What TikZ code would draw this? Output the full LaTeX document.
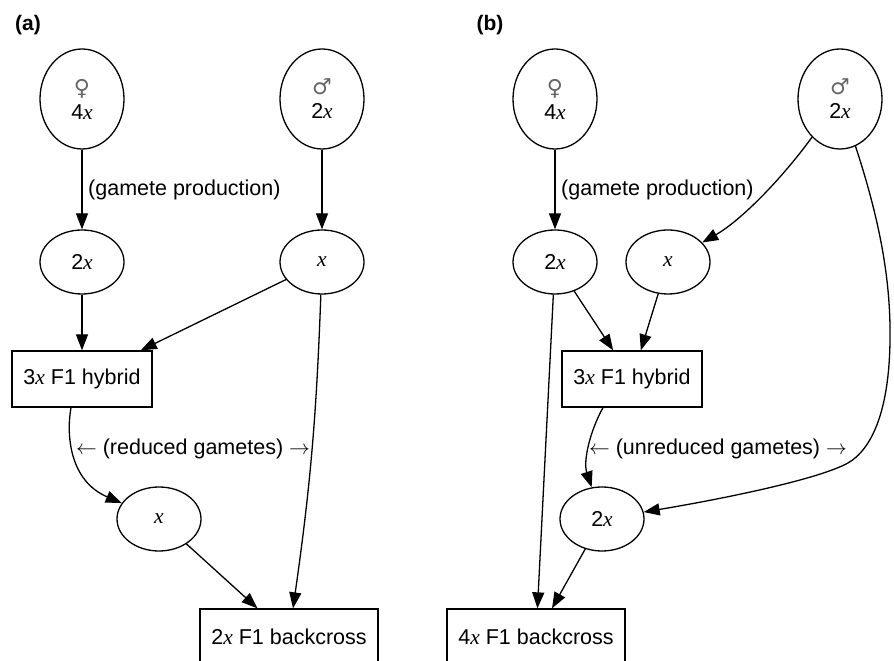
\documentclass[tikz,border=0pt]{standalone}
\usepackage{fontspec}
\setmainfont{Liberation Sans}
\newfontfamily\serifx{Liberation Serif}
\newfontfamily\symfont{DejaVu Sans}
\usetikzlibrary{arrows.meta,shapes.geometric}
\newcommand\xv{{\serifx\itshape x}}
\newcommand\sexsym[1]{{\color{black!60}\symfont\fontsize{22}{22}\selectfont #1}}
\begin{document}
\begin{tikzpicture}[x=1pt,y=1pt,
  every node/.style={font=\fontsize{21.5}{24}\selectfont},
  parent/.style={draw,ellipse,line width=1.3pt,minimum width=84pt,minimum height=100pt,inner sep=0pt,align=center},
  gamete/.style={draw,ellipse,line width=1.3pt,minimum width=84pt,minimum height=64pt,inner sep=0pt},
  plant/.style={draw,rectangle,line width=1.3pt,minimum height=56pt,inner sep=0pt},
  conn/.style={line width=1.3pt,-{Triangle[length=16pt,width=12pt]}},
  lbl/.style={inner sep=0pt}
]
\useasboundingbox (0,0) rectangle (894,661);
\clip (0,0) rectangle (894,661);
% panel (a)
\node[lbl,font=\fontsize{21}{24}\selectfont\bfseries] (la) at (28,636) {(a)};
\node[parent] (fa) at (82,562) {\sexsym{♀}\\[0pt]4\xv};
\node[parent] (ma) at (322,562) {\sexsym{♂}\\[0pt]2\xv};
\node[gamete] (g2a) at (82,399) {2\xv};
\node[gamete] (gxa) at (322,399) {\xv};
\node[plant,minimum width=140pt] (hyba) at (82,282) {3\xv{} F1 hybrid};
\node[gamete] (xa2) at (159,142) {\xv};
\node[plant,minimum width=178pt] (bca) at (289,24) {2\xv{} F1 backcross};
\node[lbl,anchor=west] (gpa) at (88,471) {(gamete production)};
\node[lbl] (rga) at (193,212) {$\leftarrow$ (reduced gametes) $\rightarrow$};
\draw[conn] (fa) -- (g2a);
\draw[conn] (ma) -- (gxa);
\draw[conn] (g2a) -- (hyba);
\draw[conn] (gxa) -- (hyba);
\draw[conn] (gxa) to[bend left=3] (bca);
\draw[conn] ([xshift=-11pt]hyba.south) .. controls (66,225) and (70,180) .. (xa2);
\draw[conn] (xa2) -- (bca);
% panel (b)
\node[lbl,font=\fontsize{21}{24}\selectfont\bfseries] (lb) at (490,636) {(b)};
\node[parent] (fb) at (555,562) {\sexsym{♀}\\[0pt]4\xv};
\node[parent] (mb) at (840,562) {\sexsym{♂}\\[0pt]2\xv};
\node[gamete] (g2b) at (555,399) {2\xv};
\node[gamete] (gxb) at (668,399) {\xv};
\node[plant,minimum width=140pt] (hybb) at (632,282) {3\xv{} F1 hybrid};
\node[gamete] (x2b) at (602,142) {2\xv};
\node[plant,minimum width=178pt] (bcb) at (536,24) {4\xv{} F1 backcross};
\node[lbl,anchor=west] (gpb) at (561,471) {(gamete production)};
\node[lbl] (ugb) at (718,212) {$\leftarrow$ (unreduced gametes) $\rightarrow$};
\draw[conn] (fb) -- (g2b);
\draw[conn] (mb) .. controls (780,480) and (740,440) .. (gxb);
\draw[conn] (g2b) -- (hybb);
\draw[conn] (gxb) -- (hybb);
\draw[conn] (g2b) -- (bcb);
\draw[conn] ([xshift=-29pt]hybb.south) .. controls (590,230) and (583,200) .. (x2b);
\draw[conn] (x2b) -- (bcb);
\draw[conn] (mb) .. controls (880,440) and (891,380) .. (890,320)
  .. controls (889,250) and (872,212) .. (848,198)
  .. controls (815,180) and (710,160) .. (x2b);
\end{tikzpicture}
\end{document}
